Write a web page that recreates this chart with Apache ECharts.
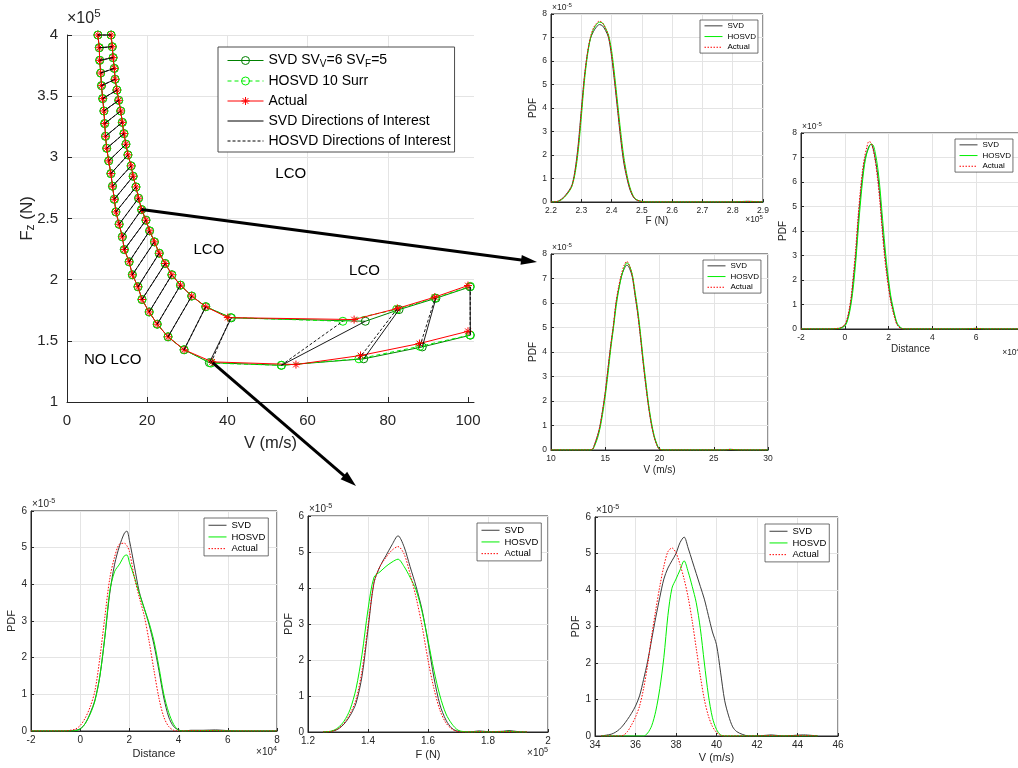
<!DOCTYPE html>
<html>
<head>
<meta charset="utf-8">
<script src="https://cdn.jsdelivr.net/npm/echarts@6/dist/echarts.min.js"></script>
<style>
  html, body { margin: 0; padding: 0; background: #ffffff; }
  #chart { width: 1018px; height: 768px; }
</style>
</head>
<body>
<div id="chart"></div>
<script>
// ---------------- LCO boundary in (V, Fz) space ----------------
// First 26 points of both branches coincide for all three models.
const leftV  = [7.7, 8.05, 8.15, 8.4, 8.6, 8.9, 9.2, 9.4, 9.6, 9.9, 10.4, 10.95, 11.35, 11.8, 12.2, 13.0, 13.8, 14.3, 15.5, 16.3, 17.7, 18.7, 20.5, 22.5, 25.2, 29.2];
const leftF  = [4.0, 3.896, 3.793, 3.689, 3.586, 3.48, 3.379, 3.276, 3.172, 3.074, 2.971, 2.867, 2.764, 2.657, 2.554, 2.453, 2.35, 2.246, 2.146, 2.04, 1.942, 1.838, 1.736, 1.636, 1.533, 1.427];
const rightV = [11.0, 11.3, 11.5, 11.8, 12.0, 12.45, 12.9, 13.4, 13.8, 14.2, 14.7, 15.2, 16.0, 16.5, 17.2, 17.85, 18.6, 19.7, 20.6, 21.8, 23.0, 24.5, 26.15, 28.3, 31.1, 34.6];
const rightF = [4.0, 3.904, 3.815, 3.727, 3.638, 3.55, 3.466, 3.379, 3.286, 3.194, 3.107, 3.02, 2.93, 2.845, 2.758, 2.666, 2.573, 2.486, 2.399, 2.309, 2.216, 2.132, 2.04, 1.955, 1.866, 1.779];

// Last five points of each branch, per model
const svdLowTailV   = [35.5, 53.5, 74.0, 88.6, 100.6];
const svdLowTailF   = [1.322, 1.300, 1.353, 1.450, 1.546];
const svdUpTailV    = [41.0, 74.4, 82.8, 92.0, 100.5];
const svdUpTailF    = [1.688, 1.660, 1.755, 1.848, 1.941];
const hosvdLowTailV = [35.9, 53.4, 72.8, 88.0, 100.5];
const hosvdLowTailF = [1.318, 1.300, 1.353, 1.455, 1.548];
const hosvdUpTailV  = [40.8, 68.8, 82.2, 91.8, 100.6];
const hosvdUpTailF  = [1.690, 1.660, 1.757, 1.850, 1.945];
const actLowTailV   = [36.2, 57.1, 73.2, 87.9, 100.0];
const actLowTailF   = [1.328, 1.306, 1.380, 1.478, 1.578];
const actUpTailV    = [40.1, 71.6, 82.4, 91.7, 100.0];
const actUpTailF    = [1.690, 1.674, 1.765, 1.857, 1.952];

// Region annotations [V, F, text]
const regionLabels = [[55.8, 2.867, 'LCO'], [35.4, 2.24, 'LCO'], [74.2, 2.07, 'LCO'], [11.4, 1.347, 'NO LCO']];

// Main axis ticks
const mainVTicks = [0, 20, 40, 60, 80, 100];

// ---------------- PDFs (y in units of 1e-5) ----------------
const pdf1X     = [2.20, 2.22, 2.24, 2.26, 2.27, 2.28, 2.29, 2.30, 2.31, 2.32, 2.33, 2.34, 2.35, 2.36, 2.37, 2.38, 2.39, 2.40, 2.41, 2.42, 2.43, 2.44, 2.45, 2.46, 2.47, 2.48, 2.50, 2.52, 2.60, 2.70, 2.80, 2.83, 2.85, 2.87, 2.90];
const pdf1Svd   = [0, 0.02, 0.18, 0.5, 0.75, 1.4, 2.45, 3.9, 5.3, 6.3, 6.95, 7.25, 7.45, 7.55, 7.5, 7.3, 7.0, 6.2, 5.1, 3.9, 2.7, 1.7, 1.05, 0.55, 0.25, 0.1, 0.02, 0, 0, 0, 0, 0.02, 0.03, 0.02, 0];
const pdf1Hosvd = [0, 0.01, 0.15, 0.45, 0.7, 1.25, 2.2, 3.6, 5.1, 6.2, 6.95, 7.35, 7.55, 7.65, 7.62, 7.4, 7.1, 6.45, 5.4, 4.2, 3.0, 1.95, 1.2, 0.65, 0.3, 0.12, 0.02, 0, 0, 0, 0, 0.01, 0.02, 0.01, 0];
const pdf1Act   = [0, 0.02, 0.17, 0.48, 0.72, 1.35, 2.35, 3.8, 5.25, 6.3, 7.0, 7.4, 7.6, 7.7, 7.62, 7.4, 7.05, 6.3, 5.2, 4.0, 2.8, 1.8, 1.1, 0.6, 0.27, 0.11, 0.02, 0, 0, 0, 0, 0.01, 0.02, 0.01, 0];

const pdf2X     = [10, 13.5, 13.8, 14.0, 14.3, 14.5, 14.75, 15.0, 15.25, 15.5, 15.75, 16.0, 16.25, 16.5, 16.75, 17.0, 17.25, 17.5, 17.75, 18.0, 18.25, 18.5, 18.75, 19.0, 19.25, 19.5, 19.75, 20.0, 20.5, 25, 26, 26.5, 27, 27.5, 30];
const pdf2Svd   = [0, 0, 0.02, 0.2, 0.6, 0.95, 1.6, 2.35, 3.3, 4.25, 5.05, 6.0, 6.6, 7.1, 7.4, 7.55, 7.4, 7.05, 6.3, 5.55, 4.6, 3.55, 2.6, 1.75, 1.05, 0.55, 0.22, 0.03, 0, 0, 0, 0.03, 0.01, 0, 0];
const pdf2Hosvd = [0, 0, 0.01, 0.15, 0.5, 0.85, 1.45, 2.2, 3.1, 4.1, 4.95, 5.85, 6.55, 7.1, 7.45, 7.65, 7.5, 7.15, 6.45, 5.7, 4.75, 3.7, 2.75, 1.85, 1.15, 0.6, 0.25, 0.05, 0, 0, 0, 0.02, 0.01, 0, 0];
const pdf2Act   = [0, 0, 0.02, 0.2, 0.6, 0.95, 1.6, 2.35, 3.3, 4.25, 5.1, 6.05, 6.7, 7.2, 7.55, 7.7, 7.5, 7.1, 6.35, 5.55, 4.6, 3.55, 2.6, 1.75, 1.05, 0.55, 0.2, 0.03, 0, 0, 0, 0.02, 0.01, 0, 0];

const pdf3X     = [-2, -0.6, -0.4, -0.2, 0, 0.1, 0.2, 0.3, 0.4, 0.5, 0.6, 0.7, 0.8, 0.9, 1.0, 1.1, 1.2, 1.3, 1.4, 1.5, 1.6, 1.7, 1.8, 1.9, 2.0, 2.1, 2.2, 2.3, 2.4, 2.6, 2.8, 5.5, 6.0, 6.4, 8];
const pdf3Svd   = [0, 0, 0.01, 0.04, 0.15, 0.35, 0.7, 1.25, 2.1, 3.0, 4.25, 5.3, 6.2, 6.85, 7.2, 7.45, 7.55, 7.35, 6.9, 6.3, 5.45, 4.35, 3.35, 2.5, 1.8, 1.2, 0.8, 0.45, 0.18, 0.02, 0, 0, 0.03, 0, 0];
const pdf3Hosvd = [0, 0, 0.01, 0.03, 0.12, 0.28, 0.6, 1.1, 1.8, 2.75, 3.9, 5.0, 5.95, 6.7, 7.15, 7.4, 7.55, 7.5, 7.15, 6.6, 5.8, 4.75, 3.7, 2.75, 2.0, 1.35, 0.9, 0.5, 0.22, 0.03, 0, 0, 0.02, 0, 0];
const pdf3Act   = [0, 0, 0.02, 0.05, 0.18, 0.4, 0.8, 1.4, 2.3, 3.3, 4.5, 5.55, 6.4, 7.0, 7.4, 7.65, 7.6, 7.3, 6.8, 6.1, 5.2, 4.1, 3.1, 2.3, 1.65, 1.1, 0.7, 0.38, 0.15, 0.01, 0, 0, 0.02, 0, 0];

const pdf4X     = [-2, -0.8, -0.6, -0.4, -0.2, 0, 0.2, 0.4, 0.6, 0.8, 1.0, 1.2, 1.4, 1.6, 1.8, 1.9, 2.0, 2.2, 2.4, 2.6, 2.8, 3.0, 3.2, 3.4, 3.6, 3.8, 4.0, 4.2, 4.5, 5.0, 5.5, 6.0, 6.5, 8];
const pdf4Svd   = [0, 0, 0, 0.01, 0.02, 0.06, 0.2, 0.48, 0.85, 1.5, 2.55, 3.75, 4.55, 5.05, 5.4, 5.45, 5.2, 4.5, 3.8, 3.35, 2.9, 2.35, 1.65, 0.9, 0.38, 0.12, 0.03, 0, 0.02, 0.02, 0.03, 0.01, 0, 0];
const pdf4Hosvd = [0, 0, 0, 0, 0.01, 0.05, 0.2, 0.45, 0.82, 1.5, 2.55, 3.8, 4.35, 4.55, 4.78, 4.8, 4.6, 4.2, 3.75, 3.35, 2.95, 2.45, 1.75, 1.0, 0.5, 0.18, 0.02, 0, 0, 0.01, 0.01, 0, 0, 0];
const pdf4Act   = [0, 0, 0, 0.02, 0.05, 0.15, 0.35, 0.65, 1.1, 2.0, 3.1, 4.15, 4.75, 5.1, 5.12, 5.05, 4.9, 4.2, 3.65, 3.15, 2.45, 1.65, 0.9, 0.38, 0.12, 0.02, 0, 0, 0.01, 0.01, 0.01, 0, 0, 0];

const pdf5X     = [1.25, 1.28, 1.30, 1.32, 1.34, 1.36, 1.38, 1.40, 1.42, 1.44, 1.46, 1.48, 1.50, 1.52, 1.54, 1.56, 1.58, 1.60, 1.62, 1.64, 1.66, 1.68, 1.70, 1.72, 1.75, 1.77, 1.80, 1.85, 1.87, 1.90, 1.93];
const pdf5Svd   = [0, 0.02, 0.08, 0.22, 0.45, 0.8, 1.55, 2.85, 4.15, 4.6, 4.9, 5.2, 5.45, 5.15, 4.6, 4.05, 3.4, 2.5, 1.5, 0.75, 0.33, 0.1, 0.02, 0, 0.01, 0.03, 0.01, 0.02, 0.04, 0.01, 0];
const pdf5Hosvd = [0, 0.03, 0.12, 0.3, 0.62, 1.2, 2.15, 3.4, 4.3, 4.45, 4.6, 4.72, 4.8, 4.6, 4.3, 3.95, 3.35, 2.55, 1.7, 1.0, 0.5, 0.22, 0.05, 0.01, 0, 0.01, 0, 0.01, 0.02, 0, 0];
const pdf5Act   = [0, 0.02, 0.09, 0.24, 0.5, 0.9, 1.7, 2.95, 4.15, 4.6, 4.85, 5.05, 5.15, 4.95, 4.4, 3.75, 2.95, 2.0, 1.2, 0.6, 0.25, 0.08, 0.01, 0, 0, 0.01, 0, 0.01, 0.01, 0, 0];

const pdf6X     = [34.3, 34.8, 35.0, 35.2, 35.4, 35.6, 35.8, 36.0, 36.2, 36.4, 36.6, 36.8, 37.0, 37.2, 37.4, 37.6, 37.8, 38.0, 38.2, 38.4, 38.6, 38.8, 39.0, 39.2, 39.4, 39.6, 39.8, 40.0, 40.2, 40.4, 40.6, 40.8, 41.0, 41.3, 41.6, 42.0, 42.7, 43.3, 44.3, 45.0];
const pdf6Svd   = [0, 0.05, 0.1, 0.18, 0.3, 0.45, 0.62, 0.82, 1.1, 1.55, 2.05, 2.65, 3.25, 3.8, 4.3, 4.6, 4.8, 5.0, 5.3, 5.45, 5.15, 4.8, 4.45, 4.1, 3.75, 3.3, 2.85, 2.5, 1.75, 0.98, 0.55, 0.25, 0.12, 0.04, 0, 0, 0.03, 0, 0.03, 0];
const pdf6Hosvd = [0, 0, 0, 0, 0, 0, 0, 0, 0, 0, 0.08, 0.28, 0.68, 1.3, 2.15, 3.3, 4.05, 4.3, 4.55, 4.8, 4.5, 4.1, 3.65, 2.95, 2.0, 1.12, 0.5, 0.18, 0.03, 0, 0, 0, 0, 0, 0, 0, 0, 0, 0, 0];
const pdf6Act   = [0, 0, 0, 0, 0.02, 0.12, 0.3, 0.52, 0.82, 1.3, 1.95, 2.75, 3.45, 4.1, 4.65, 5.05, 5.15, 5.02, 4.7, 4.3, 3.8, 3.15, 2.4, 1.65, 1.0, 0.55, 0.26, 0.1, 0.02, 0, 0, 0, 0, 0, 0, 0, 0.01, 0, 0.01, 0];

// ---------------- layout ----------------
const FONT = "'Liberation Sans', Arial, Helvetica, sans-serif";
const INK = '#262626';
const GRIDLINE = '#e4e4e4';
const LAYOUT = {
  main:   { left: 67,  top: 35,  width: 407, height: 367 },
  fTop:   { left: 551, top: 14,  width: 212, height: 188 },
  vMid:   { left: 551, top: 254, width: 217, height: 196 },
  dRight: { left: 801, top: 133, width: 219, height: 196 },
  dLow:   { left: 31,  top: 511, width: 246, height: 220 },
  fLow:   { left: 308, top: 516, width: 240, height: 216 },
  vLow:   { left: 595, top: 517, width: 243, height: 219 }
};

const panels = [
  { box: LAYOUT.fTop,   x: pdf1X, svd: pdf1Svd, hosvd: pdf1Hosvd, act: pdf1Act, xMin: 2.2, xMax: 2.9, xStep: 0.1, yMax: 8, dec: 1, xName: 'F (N)',    xExp: '5', small: true, legendAt: [700, 20], xNameGap: 12, expDy: 18 },
  { box: LAYOUT.vMid,   x: pdf2X, svd: pdf2Svd, hosvd: pdf2Hosvd, act: pdf2Act, xMin: 10,  xMax: 30,  xStep: 5,   yMax: 8, dec: 0, xName: 'V (m/s)',  xExp: null, small: true, legendAt: [703, 260], xNameGap: 15 },
  { box: LAYOUT.dRight, x: pdf3X, svd: pdf3Svd, hosvd: pdf3Hosvd, act: pdf3Act, xMin: -2,  xMax: 8,   xStep: 2,   yMax: 8, dec: 0, xName: 'Distance', xExp: '4', small: true, legendAt: [955, 139], xNameGap: 15, expDy: 24 },
  { box: LAYOUT.dLow,   x: pdf4X, svd: pdf4Svd, hosvd: pdf4Hosvd, act: pdf4Act, xMin: -2,  xMax: 8,   xStep: 2,   yMax: 6, dec: 0, xName: 'Distance', xExp: '4', small: false, legendAt: [204, 518], xNameGap: 17, expDy: 21 },
  { box: LAYOUT.fLow,   x: pdf5X, svd: pdf5Svd, hosvd: pdf5Hosvd, act: pdf5Act, xMin: 1.2, xMax: 2.0, xStep: 0.2, yMax: 6, dec: 1, xName: 'F (N)',    xExp: '5', small: false, legendAt: [477, 523], xNameGap: 17, expDy: 21 },
  { box: LAYOUT.vLow,   x: pdf6X, svd: pdf6Svd, hosvd: pdf6Hosvd, act: pdf6Act, xMin: 34,  xMax: 46,  xStep: 2,   yMax: 6, dec: 0, xName: 'V (m/s)',  xExp: null, small: false, legendAt: [765, 524], xNameGap: 16 }
];

// ---------------- helpers ----------------
const zip = (xs, ys) => xs.map((x, i) => [x, ys[i]]);
const join = (a, b) => a.concat(b);

function directionPairs(lv, lf, uv, uf) {
  const out = [];
  for (let i = 0; i < lv.length; i++) {
    out.push([lv[i], lf[i]], [uv[i], uf[i]], ['-', '-']);
  }
  return out;
}

const ASTERISK = 'path://M0,-10L0,10M-10,0L10,0M-7.07,-7.07L7.07,7.07M-7.07,7.07L7.07,-7.07';
const CLEAR = 'rgba(0,0,0,0)';
const PDF_STYLE = {
  SVD:    { color: '#3c3c3c', type: 'solid' },
  HOSVD:  { color: '#00ee00', type: 'solid' },
  Actual: { color: '#ff0000', type: [1.5, 1.5] }
};

function axisBase(fs, margin, tickLen) {
  return {
    axisLine: { show: true, onZero: false, lineStyle: { color: INK, width: 1 } },
    axisTick: { show: true, inside: true, length: tickLen, lineStyle: { color: INK, width: 1 } },
    axisLabel: { color: INK, fontSize: fs, fontFamily: FONT, margin: margin, hideOverlap: false },
    splitLine: { show: true, lineStyle: { color: GRIDLINE, width: 1 } }
  };
}

// ---------------- branches ----------------
const svdLowV = join(leftV, svdLowTailV),     svdLowF = join(leftF, svdLowTailF);
const svdUpV  = join(rightV, svdUpTailV),     svdUpF  = join(rightF, svdUpTailF);
const hosLowV = join(leftV, hosvdLowTailV),   hosLowF = join(leftF, hosvdLowTailF);
const hosUpV  = join(rightV, hosvdUpTailV),   hosUpF  = join(rightF, hosvdUpTailF);
const actLowV = join(leftV, actLowTailV),     actLowF = join(leftF, actLowTailF);
const actUpV  = join(rightV, actUpTailV),     actUpF  = join(rightF, actUpTailF);

const N_SVD = 'SVD SV_V=6 SV_F=5';
const N_HOS = 'HOSVD 10 Surr';
const N_ACT = 'Actual';
const N_DS  = 'SVD Directions of Interest';
const N_DH  = 'HOSVD Directions of Interest';

function boundarySeries(name, data, color, dashed, symbol, z) {
  return {
    type: 'line', name: name, xAxisIndex: 0, yAxisIndex: 0, data: data,
    symbol: symbol, symbolSize: 8, showSymbol: true, showAllSymbol: true,
    clip: false, z: z, animation: false, emphasis: { disabled: true },
    lineStyle: { color: color, width: 1, type: dashed ? [4, 3] : 'solid' },
    itemStyle: { color: CLEAR, borderColor: color, borderWidth: 1 }
  };
}

// ---------------- option ----------------
const grids = [];
const xAxes = [];
const yAxes = [];
const series = [];
const legends = [];

// main panel
grids.push(Object.assign({ show: false, containLabel: false, outerBoundsMode: 'none' }, LAYOUT.main));
const mainX = Object.assign(axisBase(15, 11, 5), {
  gridIndex: 0, type: 'value', min: 0, max: 101.5, interval: 20,
  name: 'V (m/s)', nameLocation: 'middle', nameGap: 33,
  nameTextStyle: { color: INK, fontSize: 16.5, fontFamily: FONT }
});
mainX.axisLabel.formatter = v => (mainVTicks.indexOf(Math.round(v * 1000) / 1000) >= 0 ? String(v) : '');
mainX.axisLabel.showMaxLabel = true;
mainX.axisTick.customValues = mainVTicks;
mainX.splitLine.showMaxLine = false;
xAxes.push(mainX);
yAxes.push(Object.assign(axisBase(15, 9, 5), {
  gridIndex: 0, type: 'value', min: 1, max: 4, interval: 0.5,
  name: 'F{sub|z} (N)', nameLocation: 'middle', nameRotate: 90, nameGap: 30, nameMoveOverlap: false,
  nameTextStyle: { color: INK, fontSize: 17, fontFamily: FONT, rich: { sub: { fontSize: 12, fontFamily: FONT, color: INK, padding: [8, 0, 0, 0] } } }
}));

series.push(boundarySeries(N_SVD, zip(svdLowV, svdLowF), '#008000', false, 'circle', 2));
series.push(boundarySeries(N_SVD, zip(svdUpV, svdUpF), '#008000', false, 'circle', 2));
series.push(boundarySeries(N_HOS, zip(hosLowV, hosLowF), '#00ee00', true, 'circle', 3));
series.push(boundarySeries(N_HOS, zip(hosUpV, hosUpF), '#00ee00', true, 'circle', 3));
series.push(boundarySeries(N_ACT, zip(actLowV, actLowF), '#ff0000', false, ASTERISK, 4));
series.push(boundarySeries(N_ACT, zip(actUpV, actUpF), '#ff0000', false, ASTERISK, 4));
series.push({
  type: 'line', name: N_DS, xAxisIndex: 0, yAxisIndex: 0, symbol: 'none', connectNulls: false,
  data: directionPairs(svdLowV, svdLowF, svdUpV, svdUpF), clip: false, z: 5, animation: false,
  emphasis: { disabled: true },
  lineStyle: { color: '#000000', width: 0.9 }, itemStyle: { color: CLEAR, borderColor: CLEAR }
});
series.push({
  type: 'line', name: N_DH, xAxisIndex: 0, yAxisIndex: 0, symbol: 'none', connectNulls: false,
  data: directionPairs(hosLowV, hosLowF, hosUpV, hosUpF), clip: false, z: 5, animation: false,
  emphasis: { disabled: true },
  lineStyle: { color: '#000000', width: 0.9, type: [3, 2] }, itemStyle: { color: CLEAR, borderColor: CLEAR }
});

legends.push({
  show: true, orient: 'vertical', left: 218, top: 47, selectedMode: false,
  data: [N_SVD, N_HOS, N_ACT, N_DS, N_DH],
  padding: [5, 4, 3, 9], itemWidth: 36, itemHeight: 10, itemGap: 4,
  backgroundColor: '#ffffff', borderColor: '#4d4d4d', borderWidth: 1,
  lineStyle: { width: 1 }, itemStyle: { borderWidth: 1 },
  formatter: n => n.replace(/_([A-Z])/g, '{sub|$1}'),
  textStyle: { color: '#000', fontSize: 14, fontFamily: FONT, lineHeight: 16,
    rich: { sub: { fontSize: 10, fontFamily: FONT, color: '#000', padding: [7, 0, 0, 0], lineHeight: 10 } } }
});

// PDF panels
panels.forEach((p, k) => {
  const gi = k + 1;
  const tickFs = p.small ? 8.5 : 10;
  const nameFs = p.small ? 10 : 11;
  grids.push(Object.assign({ show: true, borderColor: INK, borderWidth: 1, backgroundColor: 'transparent', containLabel: false, outerBoundsMode: 'none' }, p.box));
  const xa = Object.assign(axisBase(tickFs, 4, 3), {
    gridIndex: gi, type: 'value', min: p.xMin, max: p.xMax, interval: p.xStep,
    name: p.xName, nameLocation: 'middle', nameGap: p.xNameGap,
    nameTextStyle: { color: INK, fontSize: nameFs, fontFamily: FONT }
  });
  xa.axisLabel.formatter = v => String(parseFloat(Number(v).toFixed(p.dec)));
  xAxes.push(xa);
  const ya = Object.assign(axisBase(tickFs, 4, 3), {
    gridIndex: gi, type: 'value', min: 0, max: p.yMax, interval: 1,
    name: 'PDF', nameLocation: 'middle', nameRotate: 90, nameGap: p.small ? 9 : 12,
    nameTextStyle: { color: INK, fontSize: nameFs, fontFamily: FONT }
  });
  yAxes.push(ya);
  const common = { type: 'line', xAxisIndex: gi, yAxisIndex: gi, symbol: 'none', smooth: 0.3,
    animation: false, emphasis: { disabled: true }, itemStyle: { color: CLEAR, borderColor: CLEAR } };
  [['SVD', p.svd, 2], ['HOSVD', p.hosvd, 3], ['Actual', p.act, 4]].forEach(([nm, ys, z]) => {
    series.push(Object.assign({}, common, { name: nm, z: z, data: zip(p.x, ys),
      lineStyle: { color: PDF_STYLE[nm].color, width: 1, type: PDF_STYLE[nm].type } }));
  });
  legends.push({
    show: true, orient: 'vertical', left: p.legendAt[0], top: p.legendAt[1], selectedMode: false,
    data: ['SVD', 'HOSVD', 'Actual'].map(nm => ({
      name: nm, lineStyle: { color: PDF_STYLE[nm].color, width: 1, type: PDF_STYLE[nm].type }
    })),
    padding: p.small ? [1, 2, 1, 4] : [2, 3, 2, 4],
    itemWidth: 18, itemHeight: 6, itemGap: p.small ? 1 : 1.2,
    backgroundColor: '#ffffff', borderColor: '#4d4d4d', borderWidth: 0.8,
    lineStyle: { width: 1 }, itemStyle: { borderWidth: 0 },
    textStyle: { color: '#000', fontSize: p.small ? 8 : 9.5, fontFamily: FONT, lineHeight: p.small ? 9.7 : 10.5 }
  });
});

const chart = echarts.init(document.getElementById('chart'), null, { renderer: 'canvas' });
chart.setOption({
  animation: false,
  backgroundColor: '#ffffff',
  grid: grids, xAxis: xAxes, yAxis: yAxes, series: series, legend: legends
});

// ---------------- annotations ----------------
function expText(x, y, exp, fs, align, vAlign) {
  return {
    type: 'text', x: x, y: y, silent: true, z: 50,
    style: {
      text: '\u00d710{sup|' + exp + '}', fontSize: fs, fontFamily: FONT, fill: INK,
      align: align, verticalAlign: vAlign,
      rich: { sup: { fontSize: fs * 0.72, fontFamily: FONT, fill: INK, padding: [0, 0, fs * 0.55, 0] } }
    }
  };
}

function arrow(p0, p1, width, headLen, headW) {
  const dx = p1[0] - p0[0], dy = p1[1] - p0[1];
  const L = Math.hypot(dx, dy), ux = dx / L, uy = dy / L;
  const bx = p1[0] - ux * headLen, by = p1[1] - uy * headLen;
  const nx = -uy, ny = ux;
  return [
    { type: 'line', silent: true, z: 100, shape: { x1: p0[0], y1: p0[1], x2: bx + ux * 2, y2: by + uy * 2 }, style: { stroke: '#000', lineWidth: width } },
    { type: 'polygon', silent: true, z: 100, shape: { points: [[p1[0], p1[1]], [bx + nx * headW / 2, by + ny * headW / 2], [bx - nx * headW / 2, by - ny * headW / 2]] }, style: { fill: '#000' } }
  ];
}

const graphics = [];
regionLabels.forEach(r => {
  const pt = chart.convertToPixel({ gridIndex: 0 }, [r[0], r[1]]);
  graphics.push({ type: 'text', x: pt[0], y: pt[1], silent: true, z: 50,
    style: { text: r[2], fontSize: 15, fontFamily: FONT, fill: '#000', align: 'center', verticalAlign: 'middle' } });
});

// exponent of the main Fz axis
graphics.push(expText(LAYOUT.main.left, LAYOUT.main.top - 6, '5', 16, 'left', 'bottom'));
// exponents of the PDF panels
panels.forEach(p => {
  const b = p.box;
  const fs = p.small ? 8.5 : 10;
  graphics.push(expText(b.left + 1, b.top - 1, '-5', fs, 'left', 'bottom'));
  if (p.xExp) {
    graphics.push(expText(b.left + b.width, b.top + b.height + p.expDy, p.xExp, fs, 'right', 'middle'));
  }
});

// arrows from boundary points to their PDF panels
const a1Start = chart.convertToPixel({ gridIndex: 0 }, [rightV[16], rightF[16]]);
const a1End = [LAYOUT.vMid.left - 14, LAYOUT.vMid.top + 8];
const a2Start = chart.convertToPixel({ gridIndex: 0 }, [svdLowTailV[0] + 0.8, svdLowTailF[0]]);
const a2End = [LAYOUT.fLow.left + 48, LAYOUT.fLow.top - 30];
arrow(a1Start, a1End, 3, 16, 10).forEach(g => graphics.push(g));
arrow(a2Start, a2End, 3, 16, 10).forEach(g => graphics.push(g));

chart.setOption({ graphic: graphics });
</script>
</body>
</html>
